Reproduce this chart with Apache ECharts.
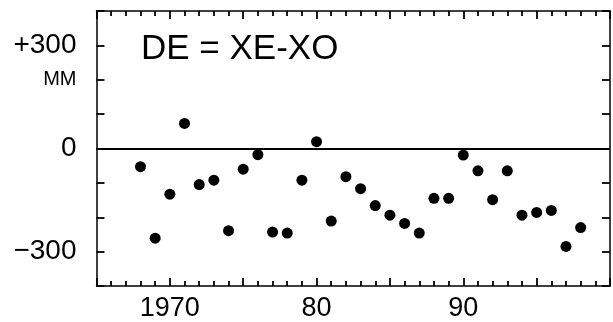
<!DOCTYPE html>
<html>
<head>
<meta charset="utf-8">
<script src="https://cdn.jsdelivr.net/npm/echarts@6/dist/echarts.min.js"></script>
<style>
  html, body { margin: 0; padding: 0; background: #fff; }
  #chart { width: 613px; height: 322px; }
</style>
</head>
<body>
<div id="chart"></div>
<script>
// years and DE values (mm)
const years = [1968, 1969, 1970, 1971, 1972, 1973, 1974, 1975, 1976, 1977, 1978, 1979,
  1980, 1981, 1982, 1983, 1984, 1985, 1986, 1987, 1988, 1989, 1990, 1991, 1992, 1993,
  1994, 1995, 1996, 1997, 1998];
const deValues = [-53, -261, -133, 73, -105, -92, -239, -60, -18, -243, -246, -92,
  20, -211, -82, -117, -166, -194, -218, -246, -145, -145, -19, -65, -149, -65,
  -194, -186, -180, -285, -230];
const xTickLabels = { 1970: '1970', 1980: '80', 1990: '90' };
const yTickLabels = { 300: '+300', 200: 'MM', 0: '0', '-300': '\u2212300' };

const FONT = 'Liberation Sans, Arial, sans-serif';
const chart = echarts.init(document.getElementById('chart'));

function xAxisAt(position, withLabels) {
  return {
    type: 'value',
    position: position,
    min: 1965,
    max: 2000,
    interval: 5,
    axisLine: { show: true, onZero: false, lineStyle: { color: '#000', width: 1.5 } },
    axisTick: { show: true, inside: true, length: 8, lineStyle: { color: '#000', width: 1.8 } },
    minorTick: { show: true, splitNumber: 5, length: 5, lineStyle: { color: '#000', width: 1.8 } },
    splitLine: { show: false },
    axisLabel: withLabels ? {
      margin: 9,
      fontFamily: FONT,
      fontSize: 27,
      color: '#000',
      formatter: (v) => xTickLabels[v] || ''
    } : { show: false }
  };
}

function yAxisAt(position, withLabels) {
  return {
    type: 'value',
    position: position,
    min: -400,
    max: 400,
    interval: 100,
    axisLine: { show: true, onZero: false, lineStyle: { color: '#000', width: 1.5 } },
    axisTick: { show: true, inside: true, length: 8, lineStyle: { color: '#000', width: 1.8 } },
    splitLine: { show: false },
    axisLabel: withLabels ? {
      margin: 20,
      fontFamily: FONT,
      fontSize: 28,
      color: '#000',
      formatter: (v) => {
        const s = yTickLabels[v] || '';
        return s === 'MM' ? '{mm|MM}' : s;
      },
      rich: { mm: { fontSize: 20, fontFamily: FONT, color: '#000' } }
    } : { show: false }
  };
}

chart.setOption({
  animation: false,
  grid: { left: 96.5, right: -2, top: 11, bottom: 35 },
  title: {
    text: 'DE = XE-XO',
    left: 136,
    top: 27,
    textStyle: { fontFamily: FONT, fontSize: 35, fontWeight: 'normal', color: '#000' }
  },
  xAxis: [xAxisAt('bottom', true), xAxisAt('top', false)],
  yAxis: [yAxisAt('left', true), yAxisAt('right', false)],
  series: [
    {
      type: 'scatter',
      xAxisIndex: 0,
      yAxisIndex: 0,
      data: years.map((y, i) => [y, deValues[i]]),
      symbolSize: 11,
      itemStyle: { color: '#000', opacity: 1 },
      markLine: {
        silent: true,
        symbol: 'none',
        label: { show: false },
        lineStyle: { color: '#000', type: 'solid', width: 1.8 },
        data: [{ yAxis: 0 }]
      }
    }
  ]
});
</script>
</body>
</html>
